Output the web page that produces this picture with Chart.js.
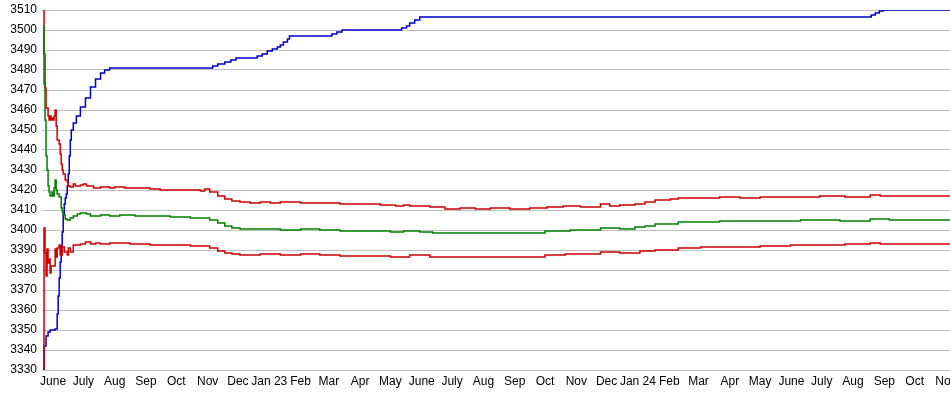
<!DOCTYPE html>
<html><head><meta charset="utf-8">
<script src="https://cdn.jsdelivr.net/npm/chart.js@4.4.0/dist/chart.umd.min.js"></script>
<style>html,body{margin:0;padding:0;background:#fff;overflow:hidden}canvas{display:block}</style>
</head><body>
<canvas id="c" width="950" height="395"></canvas>
<script>
// x values are days counted from 2022-06-01
const tickDates = ['2022-06-01','2022-07-01','2022-08-01','2022-09-01','2022-10-01','2022-11-01','2022-12-01',
  '2023-01-01','2023-02-01','2023-03-01','2023-04-01','2023-05-01','2023-06-01','2023-07-01','2023-08-01',
  '2023-09-01','2023-10-01','2023-11-01','2023-12-01','2024-01-01','2024-02-01','2024-03-01','2024-04-01',
  '2024-05-01','2024-06-01','2024-07-01','2024-08-01','2024-09-01','2024-10-01','2024-11-01'];
const tickLabels = ['June','July','Aug','Sep','Oct','Nov','Dec','Jan 23','Feb','Mar','Apr','May','June','July','Aug',
  'Sep','Oct','Nov','Dec','Jan 24','Feb','Mar','Apr','May','June','July','Aug','Sep','Oct','Nov'];
const yTicks = {min: 3330, max: 3510, step: 10};
const xRange = {min: -11, max: 888};

const blueDays = [-10,-9,-7,-5,-3,2,4,5,6,7,8,9,10,11,12,13,14,15,16,17,18,20,23,27,32,37,42,47,51,56,
  158,163,170,176,181,202,207,212,217,222,225,228,232,234,276,281,286,345,350,353,358,363,810,814,818,822,888];
const blueValues = [3330,3342,3347,3349,3350,3350.5,3358,3367,3376,3384,3392,3399,3408,3413,3416,3418,3422,3428,3437,3445,3450,3453.5,3457,3461.5,3466,3471.5,3475.5,3478.5,3480,3481,
  3482,3483,3484,3485,3486,3487,3488,3489.5,3490.5,3491.5,3492.5,3494,3495.5,3497,3498,3499,3500,3501,3502,3503.5,3505,3506.5,3507.5,3508.5,3509.5,3510,3510];

const upperDays = [-10,-9,-8,-7,-5,-4,-3,-2,-1,0,1,2,3,4,6,7,8,9,10,12,14,15,17,20,22,27,30,33,40,47,56,61,71,86,96,106,136,146,150,155,
  163,170,177,185,195,205,215,225,245,284,324,339,347,353,373,388,403,418,433,452,472,489,505,522,542,551,561,576,586,596,611,619,660,680,700,759,784,809,819,888];
const upperValues = [3510,3488,3471,3461,3457,3455,3457,3455,3456,3455,3457,3460,3452,3445,3443,3438,3433,3430,3428,3425,3424,3422,3421.5,3423,3422,3422.5,3423,3422,3421,3421.5,3421,3421.5,3421,3421,3420.5,3420,3420,3419.5,3420.5,3419,
  3417,3415.5,3414.5,3414,3413.5,3414,3413.5,3414,3413.5,3413,3412.5,3412,3412.5,3412,3411.5,3410.5,3411,3410.5,3411,3410.5,3411,3411.5,3412,3411.5,3413,3412,3412.5,3413,3414,3415,3415.5,3416,3416.5,3416,3416.5,3417,3416.5,3417.5,3417,3417];

const middleDays = [-10,-9,-8,-7,-6,-5,-4,-3,-1,0,1,2,3,4,6,8,9,10,12,14,17,20,24,27,33,37,47,56,66,81,116,136,155,163,170,177,185,225,245,264,284,334,347,363,376,487,512,542,561,576,586,596,619,660,740,779,809,828,888];
const middleValues = [3502,3473,3455,3437,3430,3422,3419,3417,3419,3417,3421,3425,3420,3418,3416.5,3411,3409,3407.5,3405.5,3405,3406,3407,3408,3408.5,3408,3407,3407.5,3407,3407.5,3407,3406.5,3406,3405,3403.5,3402,3401,3400.5,3400,3400.5,3400,3399.5,3399,3399.5,3399,3398.5,3399.5,3400,3401,3400.5,3401.5,3402,3403,3404,3404.5,3405,3404.5,3405.5,3405,3405];

const lowerDays = [-10,-9,-8,-7,-6,-5,-4,-3,-2,2,3,4,6,7,9,11,14,15,17,20,27,32,37,42,47,56,76,96,136,155,163,170,177,185,205,225,245,264,284,334,353,373,487,507,542,561,581,596,619,641,700,730,784,809,819,888];
const lowerValues = [3330,3401,3388.5,3377,3390.5,3383.5,3385.5,3378.5,3382,3390.5,3386.5,3391,3392.5,3387.5,3391.5,3389,3387.5,3391,3389,3392.5,3393,3394,3393,3393.5,3393,3393.5,3393,3392.5,3392,3391,3389.5,3388.5,3388,3387.5,3388,3387.5,3388,3387.5,3387,3386.5,3387.5,3386.5,3387.5,3388,3389,3388.5,3389.5,3390,3391,3391.5,3392,3392.5,3393,3393.5,3393,3393];

const DAY0 = Date.UTC(2022, 5, 1);
const tickDays = tickDates.map(s => { const p = s.split('-').map(Number); return Math.round((Date.UTC(p[0], p[1]-1, p[2]) - DAY0) / 86400000); });
const pts = (d, v) => d.map((x, i) => ({x: x, y: v[i]}));
const ds = (label, d, v, color) => ({label, data: pts(d, v), borderColor: color, backgroundColor: color, borderWidth: 1.5, pointRadius: 0, stepped: true, fill: false});

const FONT = {family: '"Liberation Sans", Arial, sans-serif', size: 12};
new Chart(document.getElementById('c'), {
  type: 'line',
  data: {datasets: [
    ds('middle', middleDays, middleValues, '#008000'),
    ds('lower', lowerDays, lowerValues, '#cc0000'),
    ds('upper', upperDays, upperValues, '#cc0000'),
    ds('blue', blueDays, blueValues, '#0000c8')
  ]},
  options: {
    responsive: false, animation: false, devicePixelRatio: 1,
    layout: {padding: {top: 10, right: 0, bottom: 0, left: 0}},
    plugins: {legend: {display: false}, tooltip: {enabled: false}},
    scales: {
      x: {
        type: 'linear', min: xRange.min, max: xRange.max,
        grid: {display: false, drawTicks: false}, border: {display: false},
        afterBuildTicks: s => { s.ticks = tickDays.map(v => ({value: v})); },
        afterFit: s => { s.height = 25; s.paddingLeft = 0; s.paddingRight = 0; },
        ticks: {autoSkip: false, maxRotation: 0, padding: 4, color: '#000', font: FONT,
          callback: (v) => { const i = tickDays.indexOf(v); return i >= 0 ? tickLabels[i] : ''; }}
      },
      y: {
        min: yTicks.min, max: yTicks.max,
        grid: {color: '#c0c0c0', drawTicks: false, lineWidth: 1}, border: {display: false},
        afterFit: s => { s.width = 42; s.paddingTop = 0; s.paddingBottom = 0; },
        ticks: {stepSize: yTicks.step, padding: 5, color: '#000', font: FONT, callback: v => String(v)}
      }
    }
  }
});
</script>
</body></html>
